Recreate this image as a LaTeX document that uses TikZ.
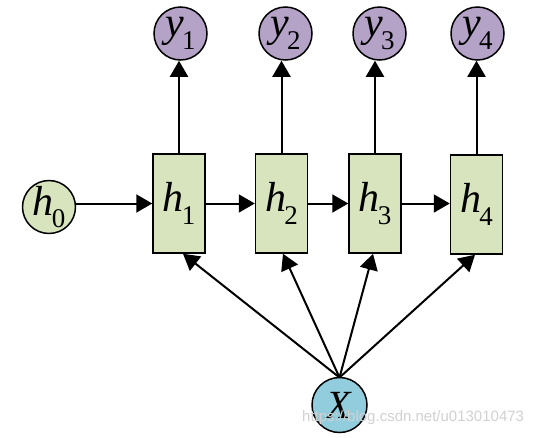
\documentclass[tikz,border=0pt]{standalone}
\usepackage{fontspec}
\setmainfont{Liberation Serif}
\newfontfamily\wmfont{Liberation Sans}
\usetikzlibrary{arrows.meta}
\definecolor{hgreen}{RGB}{215,228,189}
\definecolor{ypurple}{RGB}{180,162,199}
\definecolor{xblue}{RGB}{146,205,221}
\newcommand{\lbl}[2]{\fontsize{42}{42}\selectfont\textit{#1}\kern-2pt\raisebox{-0.3em}{\fontsize{27}{27}\selectfont #2}}
\begin{document}
\begin{tikzpicture}[x=1pt,y=-1pt,
  outnode/.style={circle,draw=black,line width=1.5pt,fill=ypurple,minimum size=53pt,inner sep=0pt},
  hcirc/.style={circle,draw=black,line width=1.5pt,fill=hgreen,minimum size=52pt,inner sep=0pt},
  xcirc/.style={circle,draw=black,line width=1.5pt,fill=xblue,minimum size=55pt,inner sep=0pt},
  hbox/.style={rectangle,draw=black,line width=1.5pt,fill=hgreen,minimum width=52pt,minimum height=99pt,inner sep=0pt},
  conn/.style={line width=2pt,-{Triangle[width=18pt,length=16pt]}}]
\useasboundingbox (0,0) rectangle (545,437);
\fill[white] (0,0) rectangle (545,437);
\node[outnode] (y1) at (180.5,33.5) {\lbl{y}{1}};
\node[outnode] (y2) at (285.5,33.5) {\lbl{y}{2}};
\node[outnode] (y3) at (379.5,33.5) {\lbl{y}{3}};
\node[outnode] (y4) at (477.5,33.5) {\lbl{y}{4}};
\node[hbox] (h1) at (179,203.5) {\lbl{h}{1}};
\node[hbox] (h2) at (281.5,203.5) {\lbl{h}{2}};
\node[hbox] (h3) at (375,203.5) {\lbl{h}{3}};
\node[hbox] (h4) at (476.5,204.5) {\lbl{h}{4}};
\node[hcirc] (h0) at (49,207) {\lbl{h}{0}};
\node[xcirc] (X) at (339.5,405) {\fontsize{40}{40}\selectfont\textit{X}};
\coordinate (xt) at (339.5,377.5);
\draw[conn] (h0.east |- 0,203.5) -- (h1.west);
\draw[conn] (h1) -- (h2);
\draw[conn] (h2) -- (h3);
\draw[conn] (h3.east) -- (h4.west |- h3.east);
\draw[conn] (h1.north) -- (y1.south -| h1.north);
\draw[conn] (h2.north) -- (y2.south -| h2.north);
\draw[conn] (h3.north) -- (y3.south -| h3.north);
\draw[conn] (h4.north) -- (y4.south -| h4.north);
\draw[conn] (xt) -- ([xshift=4pt]h1.south);
\draw[conn] (xt) -- ([xshift=1.5pt]h2.south);
\draw[conn] (xt) -- ([xshift=-2pt]h3.south);
\draw[conn] (xt) -- ([xshift=-1.5pt]h4.south);
\node[font=\wmfont\fontsize{15}{15}\selectfont,text=black!18,anchor=west,inner sep=0pt] (wm) at (302,418) {https://blog.csdn.net/u013010473};
\end{tikzpicture}
\end{document}
